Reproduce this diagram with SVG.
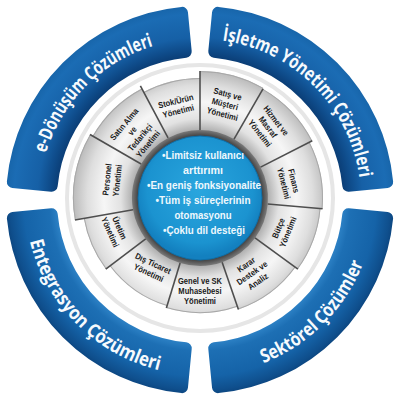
<svg xmlns="http://www.w3.org/2000/svg" xmlns:xlink="http://www.w3.org/1999/xlink" width="400" height="400" viewBox="0 0 400 400">
<style>
.band{stroke-width:12;stroke-linejoin:round}
.btxt{font-family:"Open Sans","Liberation Sans",Arial,sans-serif;font-weight:bold;font-size:19px;fill:#f6fafd;text-anchor:middle}
.seg{fill:none}
.sep{stroke:#4e4e4e;stroke-width:1.6}
.edge{fill:none;stroke:#a8a8a8;stroke-width:1}
.lbl{font-family:"Liberation Sans",Arial,sans-serif;font-weight:bold;font-size:8.6px;fill:#1a1a1a;text-anchor:middle}
.ctxt{font-family:"Liberation Sans",Arial,sans-serif;font-weight:bold;font-size:11.5px;fill:#eef8fd;text-anchor:middle}
</style>
<defs>
<radialGradient id="blueTop" gradientUnits="userSpaceOnUse" cx="200" cy="200" r="196">
<stop offset="0.72" stop-color="#0a3b72"/>
<stop offset="0.765" stop-color="#0e4a88"/>
<stop offset="0.83" stop-color="#1660a6"/>
<stop offset="0.95" stop-color="#1b6cb4"/>
<stop offset="1" stop-color="#1764a8"/>
</radialGradient>
<radialGradient id="blueBot" gradientUnits="userSpaceOnUse" cx="200" cy="200" r="196">
<stop offset="0.72" stop-color="#2f84c8"/>
<stop offset="0.77" stop-color="#1d6fb4"/>
<stop offset="0.9" stop-color="#1563a8"/>
<stop offset="0.97" stop-color="#0f4f8d"/>
<stop offset="1" stop-color="#0b437c"/>
</radialGradient>
<radialGradient id="grey" gradientUnits="userSpaceOnUse" cx="200" cy="198" r="128">
<stop offset="0.53" stop-color="#b0b0b0"/>
<stop offset="0.62" stop-color="#e2e2e2"/>
<stop offset="0.75" stop-color="#f6f6f6"/>
<stop offset="0.88" stop-color="#dedede"/>
<stop offset="1" stop-color="#b8b8b8"/>
</radialGradient>
<radialGradient id="rim" gradientUnits="userSpaceOnUse" cx="200" cy="198" r="68">
<stop offset="0.88" stop-color="#2e2e2e"/>
<stop offset="1" stop-color="#7a7a7a"/>
</radialGradient>
<radialGradient id="core" gradientUnits="userSpaceOnUse" cx="200" cy="190" r="66">
<stop offset="0" stop-color="#2aa6de"/>
<stop offset="0.8" stop-color="#1b93d0"/>
<stop offset="1" stop-color="#1380bf"/>
</radialGradient>
<path id="arcE" d="M 39.39 188.77 A 161 161 0 0 1 188.77 39.39"/>
<path id="arcI" d="M 205.62 39.10 A 161 161 0 0 1 360.90 194.38"/>
<path id="arcS" d="M 206.11 374.89 A 175 175 0 0 0 374.89 206.11"/>
<path id="arcN" d="M 25.11 206.11 A 175 175 0 0 0 193.89 374.89"/>
<path id="bandShape" d="M 12.86 181.98 A 188 188 0 0 1 181.98 12.86 L 185.72 51.69 A 149 149 0 0 0 51.69 185.72 Z"/>
</defs>
<rect width="400" height="400" fill="#ffffff"/>
<circle cx="200" cy="198" r="133" fill="none" stroke="#e6e6e6" stroke-width="4"/>

<g id="seg-edonusum">
<use href="#bandShape" class="band" fill="url(#blueTop)" stroke="url(#blueTop)"/>
<text class="btxt"><textPath href="#arcE" startOffset="50%" textLength="158" lengthAdjust="spacingAndGlyphs">e-Dönüşüm Çözümleri</textPath></text>
</g>
<g id="seg-isletme">
<use href="#bandShape" class="band" fill="url(#blueTop)" stroke="url(#blueTop)" transform="rotate(90 200 200)"/>
<text class="btxt"><textPath href="#arcI" startOffset="50%" textLength="208" lengthAdjust="spacingAndGlyphs">İşletme Yönetimi Çözümleri</textPath></text>
</g>
<g id="seg-sektorel">
<use href="#bandShape" class="band" fill="url(#blueBot)" stroke="url(#blueBot)" transform="rotate(180 200 200)"/>
<text class="btxt"><textPath href="#arcS" startOffset="50%" textLength="145" lengthAdjust="spacingAndGlyphs">Sektörel Çözümler</textPath></text>
</g>
<g id="seg-entegrasyon">
<use href="#bandShape" class="band" fill="url(#blueBot)" stroke="url(#blueBot)" transform="rotate(270 200 200)"/>
<text class="btxt"><textPath href="#arcN" startOffset="50%" textLength="192" lengthAdjust="spacingAndGlyphs">Entegrasyon Çözümleri</textPath></text>
</g>

<circle cx="200" cy="198" r="70" fill="url(#rim)"/>

<g id="n-stok">
<circle class="seg" cx="200" cy="198" r="94" stroke="url(#grey)" stroke-width="52" pathLength="360" stroke-dasharray="28 332" transform="rotate(-118 200 198)"/>
<circle class="edge" cx="200" cy="198" r="119.5" pathLength="360" stroke-dasharray="28 332" transform="rotate(-118 200 198)"/>
<g transform="translate(177,106) rotate(-14)"><text class="lbl" transform="scale(0.88,1)"><tspan x="0" y="-2">Stok/Ürün</tspan><tspan x="0" y="8.3">Yönetimi</tspan></text></g>
</g>
<g id="n-satis">
<circle class="seg" cx="200" cy="198" r="97.5" stroke="url(#grey)" stroke-width="59" pathLength="360" stroke-dasharray="30 330" transform="rotate(-90 200 198)"/>
<circle class="edge" cx="200" cy="198" r="126.5" pathLength="360" stroke-dasharray="30 330" transform="rotate(-90 200 198)"/>
<g transform="translate(225,104) rotate(15)"><text class="lbl" transform="scale(0.88,1)"><tspan x="0" y="-7.3">Satış ve</tspan><tspan x="0" y="3">Müşteri</tspan><tspan x="0" y="13.3">Yönetimi</tspan></text></g>
</g>
<g id="n-hizmet">
<circle class="seg" cx="200" cy="198" r="97" stroke="url(#grey)" stroke-width="58" pathLength="360" stroke-dasharray="33 327" transform="rotate(-60 200 198)"/>
<circle class="edge" cx="200" cy="198" r="125.5" pathLength="360" stroke-dasharray="33 327" transform="rotate(-60 200 198)"/>
<g transform="translate(268,127) rotate(52)"><text class="lbl" transform="scale(0.88,1)"><tspan x="0" y="-7.3">Hizmet ve</tspan><tspan x="0" y="3">Masraf</tspan><tspan x="0" y="13.3">Yönetimi</tspan></text></g>
</g>
<g id="n-finans">
<circle class="seg" cx="200" cy="198" r="95.5" stroke="url(#grey)" stroke-width="55" pathLength="360" stroke-dasharray="32 328" transform="rotate(-27 200 198)"/>
<circle class="edge" cx="200" cy="198" r="122.5" pathLength="360" stroke-dasharray="32 328" transform="rotate(-27 200 198)"/>
<g transform="translate(289,182) rotate(76)"><text class="lbl" transform="scale(0.88,1)"><tspan x="0" y="-2">Finans</tspan><tspan x="0" y="8.3">Yönetimi</tspan></text></g>
</g>
<g id="n-butce">
<circle class="seg" cx="200" cy="198" r="94.5" stroke="url(#grey)" stroke-width="53" pathLength="360" stroke-dasharray="31 329" transform="rotate(5 200 198)"/>
<circle class="edge" cx="200" cy="198" r="120.5" pathLength="360" stroke-dasharray="31 329" transform="rotate(5 200 198)"/>
<g transform="translate(283,230) rotate(-68)"><text class="lbl" transform="scale(0.88,1)"><tspan x="0" y="-2">Bütçe</tspan><tspan x="0" y="8.3">Yönetimi</tspan></text></g>
</g>
<g id="n-karar">
<circle class="seg" cx="200" cy="198" r="93" stroke="url(#grey)" stroke-width="50" pathLength="360" stroke-dasharray="35 325" transform="rotate(36 200 198)"/>
<circle class="edge" cx="200" cy="198" r="117.5" pathLength="360" stroke-dasharray="35 325" transform="rotate(36 200 198)"/>
<g transform="translate(252,273) rotate(-35)"><text class="lbl" transform="scale(0.88,1)"><tspan x="0" y="-7.3">Karar</tspan><tspan x="0" y="3">Destek ve</tspan><tspan x="0" y="13.3">Analiz</tspan></text></g>
</g>
<g id="n-genel">
<circle class="seg" cx="200" cy="198" r="91.5" stroke="url(#grey)" stroke-width="47" pathLength="360" stroke-dasharray="36 324" transform="rotate(71 200 198)"/>
<circle class="edge" cx="200" cy="198" r="114.5" pathLength="360" stroke-dasharray="36 324" transform="rotate(71 200 198)"/>
<g transform="translate(200,291)"><text class="lbl" transform="scale(0.88,1)"><tspan x="0" y="-7.3">Genel ve SK</tspan><tspan x="0" y="3">Muhasebesi</tspan><tspan x="0" y="13.3">Yönetimi</tspan></text></g>
</g>
<g id="n-dis">
<circle class="seg" cx="200" cy="198" r="90.5" stroke="url(#grey)" stroke-width="45" pathLength="360" stroke-dasharray="36 324" transform="rotate(107 200 198)"/>
<circle class="edge" cx="200" cy="198" r="112.5" pathLength="360" stroke-dasharray="36 324" transform="rotate(107 200 198)"/>
<g transform="translate(151,268) rotate(25)"><text class="lbl" transform="scale(0.88,1)"><tspan x="0" y="-2">Dış Ticaret</tspan><tspan x="0" y="8.3">Yönetimi</tspan></text></g>
</g>
<g id="n-uretim">
<circle class="seg" cx="200" cy="198" r="93" stroke="url(#grey)" stroke-width="50" pathLength="360" stroke-dasharray="27 333" transform="rotate(143 200 198)"/>
<circle class="edge" cx="200" cy="198" r="117.5" pathLength="360" stroke-dasharray="27 333" transform="rotate(143 200 198)"/>
<g transform="translate(115,230) rotate(66)"><text class="lbl" transform="scale(0.88,1)"><tspan x="0" y="-2">Üretim</tspan><tspan x="0" y="8.3">Yönetimi</tspan></text></g>
</g>
<g id="n-personel">
<circle class="seg" cx="200" cy="198" r="97.5" stroke="url(#grey)" stroke-width="59" pathLength="360" stroke-dasharray="40 320" transform="rotate(170 200 198)"/>
<circle class="edge" cx="200" cy="198" r="126.5" pathLength="360" stroke-dasharray="40 320" transform="rotate(170 200 198)"/>
<g transform="translate(112,180) rotate(-84)"><text class="lbl" transform="scale(0.88,1)"><tspan x="0" y="-2">Personel</tspan><tspan x="0" y="8.3">Yönetimi</tspan></text></g>
</g>
<g id="n-satinalma">
<circle class="seg" cx="200" cy="198" r="96" stroke="url(#grey)" stroke-width="56" pathLength="360" stroke-dasharray="32 328" transform="rotate(210 200 198)"/>
<circle class="edge" cx="200" cy="198" r="123.5" pathLength="360" stroke-dasharray="32 328" transform="rotate(210 200 198)"/>
<g transform="translate(136,134) rotate(-50)"><text class="lbl" transform="scale(0.88,1)"><tspan x="0" y="-12.3">Satın Alma</tspan><tspan x="0" y="-2">ve</tspan><tspan x="0" y="8.3">Tedarikçi</tspan><tspan x="0" y="18.6">Yönetimi</tspan></text></g>
</g>

<g id="separators">
<line class="sep" x1="268" y1="198" x2="327" y2="198" transform="rotate(-118 200 198)"/>
<line class="sep" x1="268" y1="198" x2="327" y2="198" transform="rotate(-90 200 198)"/>
<line class="sep" x1="268" y1="198" x2="326" y2="198" transform="rotate(-60 200 198)"/>
<line class="sep" x1="268" y1="198" x2="326" y2="198" transform="rotate(-27 200 198)"/>
<line class="sep" x1="268" y1="198" x2="323" y2="198" transform="rotate(5 200 198)"/>
<line class="sep" x1="268" y1="198" x2="321" y2="198" transform="rotate(36 200 198)"/>
<line class="sep" x1="268" y1="198" x2="318" y2="198" transform="rotate(71 200 198)"/>
<line class="sep" x1="268" y1="198" x2="315" y2="198" transform="rotate(107 200 198)"/>
<line class="sep" x1="268" y1="198" x2="318" y2="198" transform="rotate(143 200 198)"/>
<line class="sep" x1="268" y1="198" x2="327" y2="198" transform="rotate(170 200 198)"/>
<line class="sep" x1="268" y1="198" x2="327" y2="198" transform="rotate(210 200 198)"/>
</g>

<g id="center">
<circle cx="200" cy="198" r="66" fill="url(#rim)"/>
<circle cx="200" cy="198" r="62" fill="url(#core)" stroke="#0f6fa8" stroke-width="1"/>
<text class="ctxt" x="203" y="159" textLength="82" lengthAdjust="spacingAndGlyphs">•Limitsiz kullanıcı</text>
<text class="ctxt" x="203" y="174" textLength="40" lengthAdjust="spacingAndGlyphs">arttırımı</text>
<text class="ctxt" x="204" y="189" textLength="114" lengthAdjust="spacingAndGlyphs">•En geniş fonksiyonalite</text>
<text class="ctxt" x="203" y="204" textLength="95" lengthAdjust="spacingAndGlyphs">•Tüm iş süreçlerinin</text>
<text class="ctxt" x="203" y="219" textLength="57" lengthAdjust="spacingAndGlyphs">otomasyonu</text>
<text class="ctxt" x="204" y="234" textLength="82" lengthAdjust="spacingAndGlyphs">•Çoklu dil desteği</text>
</g>
<g id="connectors"/>
</svg>
